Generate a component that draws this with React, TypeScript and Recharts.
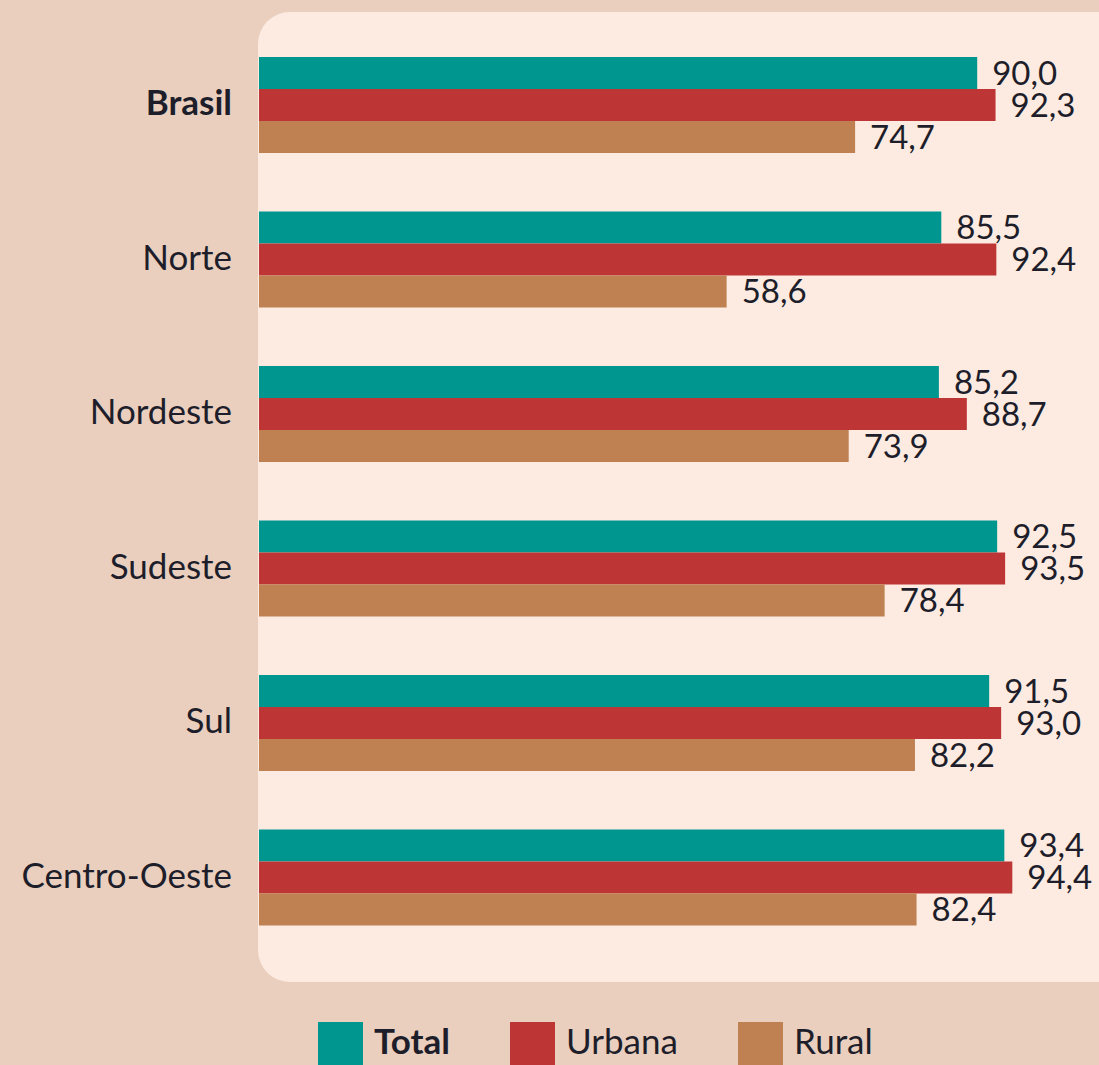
import React from 'react';
import { BarChart, Bar, XAxis, YAxis, LabelList } from 'recharts';

// regiões e valores (%)
const regions = ['Brasil', 'Norte', 'Nordeste', 'Sudeste', 'Sul', 'Centro-Oeste'];
const total = [90.0, 85.5, 85.2, 92.5, 91.5, 93.4];
const urbana = [92.3, 92.4, 88.7, 93.5, 93.0, 94.4];
const rural = [74.7, 58.6, 73.9, 78.4, 82.2, 82.4];

const series = [
  { key: 'total', name: 'Total', color: '#009690', bold: true },
  { key: 'urbana', name: 'Urbana', color: '#BE3535', bold: false },
  { key: 'rural', name: 'Rural', color: '#BF8152', bold: false },
];

const FONT = 'Lato, "Open Sans", sans-serif';
const TEXT = '#1e1e2a';

const data = regions.map((r, i) => ({
  region: r,
  total: total[i],
  urbana: urbana[i],
  rural: rural[i],
}));

const fmt = (v: number) => v.toFixed(1).replace('.', ',');

const RegionTick = (props: any) => {
  const { x, y, payload } = props;
  return (
    <text
      x={x}
      y={y}
      dy={10}
      textAnchor="end"
      fill={TEXT}
      fontSize={35}
      fontFamily={FONT}
      fontWeight={payload.value === 'Brasil' ? 700 : 400}
    >
      {payload.value}
    </text>
  );
};

export default function App() {
  return (
    <div
      style={{
        position: 'absolute',
        left: 0,
        top: 0,
        width: 1099,
        height: 1065,
        background: '#EACFBF',
        overflow: 'hidden',
        fontFamily: FONT,
      }}
    >
      <div
        style={{
          position: 'absolute',
          left: 258,
          top: 12,
          width: 900,
          height: 970,
          borderRadius: 32,
          background: '#FDEBE2',
        }}
      />
      <div style={{ position: 'absolute', left: 0, top: 0 }}>
        <BarChart
          width={1099}
          height={1000}
          data={data}
          layout="vertical"
          margin={{ top: 28, right: 42, bottom: 45, left: 0 }}
          barGap={0}
        >
          <XAxis type="number" domain={[0, 100]} hide />
          <YAxis
            type="category"
            dataKey="region"
            width={259}
            axisLine={false}
            tickLine={false}
            tickSize={0}
            tickMargin={27}
            tick={<RegionTick />}
            interval={0}
          />
          {series.map(s => (
            <Bar
              key={s.key}
              dataKey={s.key}
              name={s.name}
              fill={s.color}
              barSize={32}
              isAnimationActive={false}
            >
              <LabelList
                dataKey={s.key}
                position="right"
                offset={15}
                formatter={(v: any) => fmt(Number(v))}
                fill={TEXT}
                fontSize={33}
                fontFamily={FONT}
              />
            </Bar>
          ))}
        </BarChart>
      </div>
      <div
        style={{
          position: 'absolute',
          left: 318,
          top: 1022,
          display: 'flex',
          alignItems: 'flex-start',
        }}
      >
        {series.map(s => (
          <div key={s.key} style={{ display: 'flex', alignItems: 'flex-start', marginRight: 60 }}>
            <div style={{ width: 45, height: 50, background: s.color }} />
            <div
              style={{
                marginLeft: 11,
                marginTop: 1,
                fontSize: 35,
                lineHeight: '35px',
                color: TEXT,
                fontWeight: s.bold ? 700 : 400,
              }}
            >
              {s.name}
            </div>
          </div>
        ))}
      </div>
    </div>
  );
}
